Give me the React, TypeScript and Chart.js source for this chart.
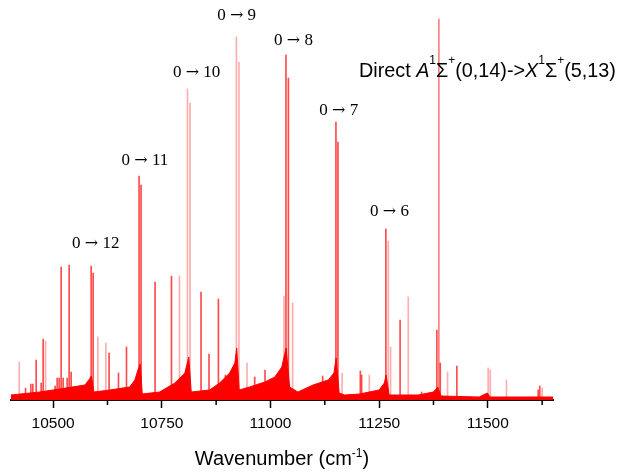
import { useEffect, useRef } from "react";
import { Chart, registerables } from "chart.js";

Chart.register(...registerables);

// Line positions (cm-1), relative intensities, and shade (0 = strong, 1 = faint, 2 = medium)
const peakPositions = [
  10422, 10436.5, 10448.7, 10453.3, 10460.9, 10472.4, 10477, 10482.5, 10504.6, 10509.2,
  10513.8, 10518.4, 10523, 10532.2, 10536.8, 10541.4, 10587.4, 10592, 10602.8, 10621.2,
  10628.7, 10650.3, 10668.7, 10697.7, 10702.3, 10734.5, 10772.2, 10790.6, 10809, 10815,
  10840.2, 10858.6, 10880.2, 10896.3, 10921.6, 10927.4, 10946, 10963.7, 10987.4, 11031,
  11035.6, 11041.2, 11051, 11120, 11150.6, 11155.2, 11164.8, 11206.7, 11209.7, 11227.4,
  11265.5, 11271, 11276.3, 11298.2, 11317, 11347.6, 11382.8, 11387.4, 11390.6, 11407.4,
  11428.8, 11500.9, 11505.5, 11543, 11615.9, 11619.6, 11625.1,
];
const peakHeights = [
  38, 12, 16, 16, 40, 17, 61, 59, 14, 22,
  22, 133, 22, 22, 135, 28, 134, 127, 63, 57,
  47, 27, 53, 224, 215, 118, 124, 124, 311, 297,
  108, 46, 101, 25, 363, 338, 37, 23, 30, 104,
  345, 322, 97, 24, 278, 258, 27, 29, 25, 25,
  171, 159, 53, 80, 103, 8, 70, 381, 37, 28,
  34, 32, 30, 20, 10, 14, 12,
];
const peakShade = [
  1, 0, 0, 0, 0, 0, 0, 1, 0, 0,
  0, 0, 0, 0, 0, 0, 0, 0, 1, 1,
  0, 0, 0, 0, 0, 0, 0, 1, 1, 1,
  0, 0, 0, 0, 1, 1, 1, 0, 0, 1,
  0, 0, 1, 0, 0, 0, 1, 0, 0, 1,
  0, 1, 1, 0, 1, 0, 0, 2, 0, 1,
  0, 1, 1, 1, 0, 0, 1,
];

// Dense unresolved background (band envelopes)
const envelopeX = [
  10403, 10469, 10515, 10573, 10582, 10588, 10593.6, 10630, 10676, 10688,
  10695, 10700.5, 10705, 10745, 10780, 10803, 10812, 10817.7, 10860, 10883,
  10906, 10918, 10922.3, 10928, 10952, 10987, 11010, 11026, 11036, 11044,
  11063, 11098, 11133, 11146, 11151, 11158, 11170, 11205, 11250, 11262,
  11266, 11273, 11340, 11375, 11385, 11392, 11480, 11499, 11505, 11650,
];
const envelopeY = [
  5, 8, 11, 15, 20, 24, 8, 10, 13, 20,
  30, 36, 6, 8, 17, 27, 43, 8, 10, 17,
  27, 37, 52, 10, 13, 18, 23, 33, 52, 13,
  8, 15, 20, 27, 42, 7, 5, 6, 10, 17,
  25, 5, 5, 8, 13, 4, 3, 7, 3, 3,
];

const bandFrom = ["0", "0", "0", "0", "0", "0", "0"];
const bandTo = ["12", "11", "10", "9", "8", "7", "6"];
const bandLabelX = [10598, 10711, 10830, 10922, 11053, 11157, 11274];
const bandLabelY = [156, 239, 327, 384, 359, 289, 188];

const xTicks = [10500, 10750, 11000, 11250, 11500];
const xMinorTicks = [10625, 10875, 11125, 11375, 11625];

type Part = { t: string; i?: boolean; s?: boolean };

const titleParts: Part[] = [
  { t: "Direct " }, { t: "A", i: true }, { t: "1", s: true }, { t: "Σ" }, { t: "+", s: true },
  { t: "(0,14)->" }, { t: "X", i: true }, { t: "1", s: true }, { t: "Σ" }, { t: "+", s: true },
  { t: "(5,13)" },
];
const axisTitleParts: Part[] = [{ t: "Wavenumber (cm" }, { t: "-1", s: true }, { t: ")" }];

function richWidth(ctx: CanvasRenderingContext2D, parts: Part[], size: number, supSize: number, family: string) {
  let w = 0;
  for (const p of parts) {
    ctx.font = `${p.i ? "italic " : ""}${p.s ? supSize : size}px ${family}`;
    w += ctx.measureText(p.t).width;
  }
  return w;
}

function drawRich(ctx: CanvasRenderingContext2D, parts: Part[], x0: number, base: number, size: number, supSize: number, raise: number, family: string) {
  let x = x0;
  ctx.textAlign = "left";
  ctx.textBaseline = "alphabetic";
  for (const p of parts) {
    ctx.font = `${p.i ? "italic " : ""}${p.s ? supSize : size}px ${family}`;
    ctx.fillText(p.t, x, p.s ? base - raise : base);
    x += ctx.measureText(p.t).width;
  }
}

const overlay = {
  id: "overlay",
  afterDraw(chart: any) {
    const { ctx, chartArea } = chart;
    const xs = chart.scales.x;
    const ys = chart.scales.y;
    ctx.save();
    ctx.strokeStyle = "#000";
    ctx.lineWidth = 1.5;
    for (const v of xMinorTicks) {
      const px = xs.getPixelForValue(v);
      ctx.beginPath();
      ctx.moveTo(px, chartArea.bottom);
      ctx.lineTo(px, chartArea.bottom + 5);
      ctx.stroke();
    }
    ctx.fillStyle = "#000";
    ctx.textBaseline = "middle";
    ctx.textAlign = "left";
    const serif = '17px "Liberation Serif"';
    const arrowFont = '16px "DejaVu Serif"';
    bandTo.forEach((to, i) => {
      const cx = xs.getPixelForValue(bandLabelX[i]);
      const cy = ys.getPixelForValue(bandLabelY[i]);
      ctx.font = serif;
      const a = ctx.measureText(bandFrom[i] + " ").width;
      const c = ctx.measureText(" " + to).width;
      ctx.font = arrowFont;
      const b = ctx.measureText("→").width;
      let x = cx - (a + b + c) / 2;
      ctx.font = serif;
      ctx.fillText(bandFrom[i] + " ", x, cy);
      x += a;
      ctx.font = arrowFont;
      ctx.fillText("→", x, cy);
      x += b;
      ctx.font = serif;
      ctx.fillText(" " + to, x, cy);
    });
    const fam = '"Liberation Sans"';
    drawRich(ctx, titleParts, chartArea.left + 348, 77, 19.8, 12, 13, fam);
    const aw = richWidth(ctx, axisTitleParts, 20, 12, fam);
    drawRich(ctx, axisTitleParts, (chartArea.left + chartArea.right) / 2 - aw / 2, 465, 20, 12, 8, fam);
    ctx.restore();
  },
};

export default function App() {
  const ref = useRef<HTMLCanvasElement | null>(null);
  useEffect(() => {
    if (!ref.current) return;
    const shadeColors = ["rgba(255,30,30,0.8)", "rgba(255,60,60,0.42)", "rgba(255,40,40,0.6)"];
    const chart = new Chart(ref.current, {
      type: "bar",
      data: {
        datasets: [
          {
            type: "line",
            data: envelopeX.map((x, i) => ({ x, y: envelopeY[i] })),
            backgroundColor: "#ff0000",
            borderColor: "#ff0000",
            borderWidth: 1,
            pointRadius: 0,
            fill: "origin",
            tension: 0,
            order: 0,
          } as any,
          {
            type: "bar",
            data: peakPositions.map((x, i) => ({ x, y: peakHeights[i] })),
            backgroundColor: peakShade.map((s) => shadeColors[s]),
            barThickness: 1,
            grouped: false,
            order: 1,
          } as any,
        ],
      },
      options: {
        animation: false,
        responsive: true,
        maintainAspectRatio: false,
        layout: { padding: { left: 11, right: 70, top: 10, bottom: 0 } },
        plugins: { legend: { display: false }, tooltip: { enabled: false } },
        scales: {
          x: {
            type: "linear",
            offset: false,
            min: 10403,
            max: 11650,
            afterBuildTicks: (scale: any) => {
              scale.ticks = xTicks.map((v) => ({ value: v }));
            },
            afterFit: (scale: any) => {
              scale.height = 72;
            },
            grid: { display: true, offset: false, drawOnChartArea: false, tickLength: 8, tickColor: "#000", tickWidth: 1.5 },
            border: { display: true, color: "#111", width: 2 },
            ticks: {
              color: "#000",
              font: { family: '"Liberation Sans"', size: 15.5 },
              padding: 6,
              maxRotation: 0,
              autoSkip: false,
              callback: (v: any) => String(v),
            },
          },
          y: { display: false, min: 0, max: 390 },
        },
      },
      plugins: [overlay],
    });
    return () => chart.destroy();
  }, []);
  return (
    <div style={{ position: "fixed", left: 0, top: 0, width: 623, height: 472, background: "#fff" }}>
      <canvas ref={ref} style={{ display: "block" }} />
    </div>
  );
}
